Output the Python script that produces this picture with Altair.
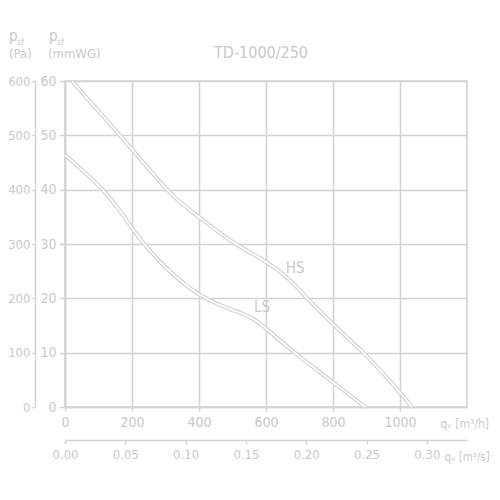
import altair as alt
import pandas as pd

# ---- data ----
hs_q = [21, 100, 170, 200, 250, 304, 334, 403, 450, 493, 550, 602, 651, 700, 722, 800, 850, 901, 950, 1000, 1036]
hs_p = [60, 54.4, 49.6, 47.4, 43.8, 40, 38.1, 34.8, 32.6, 30.6, 28.5, 26.7, 24.6, 21.6, 20, 15.2, 12.4, 9.4, 6.2, 2.7, 0]
ls_q = [0, 50, 115, 164, 203, 233, 284, 343, 403, 450, 493, 530, 562, 602, 681, 800, 896]
ls_p = [46.4, 43.7, 40, 36.2, 32.6, 30.2, 26.6, 23.2, 20.5, 19.1, 18, 17.2, 16.3, 14.4, 10.1, 4.6, 0]

curve_names = ["HS", "LS"]
label_q = [687, 588]
label_p = [25.6, 18.4]

q_ticks = [0, 200, 400, 600, 800, 1000]
mmwg_ticks = [0, 10, 20, 30, 40, 50, 60]
pa_ticks = [0, 100, 200, 300, 400, 500, 600]
ms_ticks = [0.00, 0.05, 0.10, 0.15, 0.20, 0.25, 0.30]

title_text = "TD-1000/250"

# ---- styling ----
GRID = "#d3d3d3"
TEXT = "#c9c9c9"
FONT = "DejaVu Sans Condensed"

curves = pd.DataFrame(
    {"q": hs_q + ls_q, "p": hs_p + ls_p,
     "speed": ["HS"] * len(hs_q) + ["LS"] * len(ls_q)}
)
labels = pd.DataFrame({"q": label_q, "p": label_p, "name": curve_names})

xs = alt.Scale(domain=[0, 1200], nice=False, zero=False)
ys = alt.Scale(domain=[0, 60], nice=False, zero=False)

x_main = alt.X(
    "q:Q", scale=xs,
    axis=alt.Axis(values=q_ticks, format="d", grid=True, labelFlush=False, tickSize=4,
                  labelPadding=4, title="qᵥ [m³/h]", titleX=375, titleY=16,
                  titleAlign="left", titleBaseline="middle", titleFontSize=12),
)
y_main = alt.Y(
    "p:Q", scale=ys,
    axis=alt.Axis(values=mmwg_ticks, grid=True, labelFlush=False, tickSize=6,
                  labelPadding=3, title=None),
)

gray = alt.Chart(curves).mark_line(color=GRID, strokeWidth=4.2, interpolate="basis").encode(
    x=x_main, y=y_main, detail="speed:N")
white = alt.Chart(curves).mark_line(color="white", strokeWidth=1.8, interpolate="basis").encode(
    x=alt.X("q:Q", scale=xs), y=alt.Y("p:Q", scale=ys), detail="speed:N")
lab = alt.Chart(labels).mark_text(font=FONT, fontSize=15, color=TEXT).encode(
    x=alt.X("q:Q", scale=xs), y=alt.Y("p:Q", scale=ys), text="name:N")

inner = alt.layer(gray, white, lab)

pa_layer = alt.Chart(pd.DataFrame({"pa": pa_ticks})).mark_point(opacity=0).encode(
    y=alt.Y("pa:Q", scale=alt.Scale(domain=[0, 600], nice=False),
            axis=alt.Axis(orient="left", offset=30, values=pa_ticks, grid=False,
                          labelFlush=False, tickSize=3, labelPadding=2,
                          labelFontSize=13, title=None)))

ms_layer = alt.Chart(pd.DataFrame({"ms": ms_ticks})).mark_point(opacity=0).encode(
    x=alt.X("ms:Q", scale=alt.Scale(domain=[0, 1200 / 3600], nice=False),
            axis=alt.Axis(orient="bottom", offset=33, values=ms_ticks, format=".2f",
                          grid=False, labelFlush=False, tickSize=4, labelPadding=4,
                          labelFontSize=13,
                          title="qᵥ [m³/s]", titleX=379, titleY=17, titleAlign="left",
                          titleBaseline="middle", titleFontSize=11.5)))

one = pd.DataFrame({"k": [0]})


def txt(s, x, y, size, baseline="alphabetic", align="left"):
    return alt.Chart(one).mark_text(text=s, font=FONT, fontSize=size, color=TEXT,
                                    align=align, baseline=baseline).encode(
        x=alt.value(x), y=alt.value(y))


headers = [
    txt("p", -56, -40, 15),
    txt("sf", -48, -36, 9),
    txt("(Pa)", -56, -27, 13, baseline="middle"),
    txt("p", -16, -40, 15),
    txt("sf", -8, -36, 9),
    txt("(mmWG)", -17, -27, 13, baseline="middle"),
    txt(title_text, 196, -28, 16, baseline="middle", align="center"),
]

chart = alt.layer(inner, pa_layer, ms_layer, *headers).resolve_scale(
    x="independent", y="independent"
).properties(
    width=402, height=326,
    autosize=alt.AutoSizeParams(type="none"),
    padding={"left": 57, "top": 73, "right": 25, "bottom": 70},
    background="white",
).configure_axis(
    labelFont=FONT, labelColor=TEXT, labelFontSize=14,
    titleFont=FONT, titleColor=TEXT, titleFontWeight="normal",
    domainColor=GRID, tickColor=GRID, gridColor=GRID,
    domainWidth=1.5, tickWidth=1.5, gridWidth=1.6,
).configure_view(stroke=GRID, strokeWidth=1.6)

chart.save("out.html", embed_options={"renderer": "svg", "actions": False})
